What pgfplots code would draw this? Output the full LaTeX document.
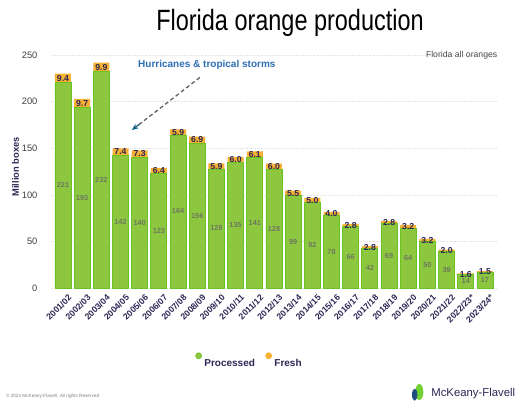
\documentclass[border=0pt]{standalone}
\usepackage{fontspec}
\setmainfont{Liberation Sans}
\usepackage{graphicx}
\usepackage{pgfplots}
\usepackage{pgfplotstable}
\pgfplotsset{compat=1.18}
\usetikzlibrary{arrows.meta}
\definecolor{procgreen}{RGB}{141,198,63}
\definecolor{procedge}{RGB}{105,195,35}
\definecolor{freshorange}{RGB}{246,176,50}
\definecolor{navy}{RGB}{45,38,85}
\definecolor{annblue}{RGB}{45,110,180}
\pgfplotstableread{
idx label proc fresh
0 2001/02 220.6 9.4
1 2002/03 193.3 9.7
2 2003/04 232.1 9.9
3 2004/05 142.4 7.4
4 2005/06 140.4 7.3
5 2006/07 122.6 6.4
6 2007/08 164.3 5.9
7 2008/09 155.6 6.9
8 2009/10 127.8 5.9
9 2010/11 134.5 6.0
10 2011/12 140.5 6.1
11 2012/13 127.6 6.0
12 2013/14 99.1 5.5
13 2014/15 91.7 5.0
14 2015/16 77.7 4.0
15 2016/17 65.9 2.8
16 2017/18 42.2 2.8
17 2018/19 69.0 2.8
18 2019/20 64.2 3.2
19 2020/21 49.6 3.2
20 2021/22 39.2 2.0
21 2022/23* 14.2 1.6
22 2023/24* 16.5 1.5
}\datatable
\pgfplotsset{/pgf/number format/assume math mode=true}
\begin{document}
\begin{tikzpicture}
\useasboundingbox (0,0) rectangle (393pt,303pt);
\fill[white] (0,0) rectangle (393pt,303pt);
\begin{axis}[
  at={(38.6pt,87pt)}, anchor=south west,
  scale only axis, width=333.75pt, height=181.7pt,
  xmin=-0.6, xmax=22.6, ymin=0, ymax=260,
  ybar stacked, bar width=12pt,
  xtick={0,...,22},
  xticklabels from table={\datatable}{label},
  xticklabel style={rotate=45, anchor=north east, font=\fontsize{6.5}{6.5}\selectfont\bfseries, text=navy, inner sep=0.5pt, yshift=-5pt},
  ytick={0,50,...,250},
  yticklabel style={font=\fontsize{7}{7}\selectfont, text=black!75, xshift=-7pt},
  ylabel={Million boxes},
  every axis y label/.style={at={(rel axis cs:-0.081,0.5)}, rotate=90, anchor=center, font=\fontsize{7}{7}\selectfont\bfseries, text=navy},
  axis line style={draw=none}, major tick length=0pt,
  ymajorgrids, grid style={black!12, densely dotted},
  legend style={at={(0.446,-0.305)}, anchor=center, draw=none, fill=none, legend columns=2,
    font=\fontsize{7.5}{7.5}\selectfont\bfseries, text=navy,
    /tikz/every even column/.append style={column sep=6pt}},
  legend cell align=left,
]
\addplot[fill=procgreen, draw=procedge, line width=0.6pt, forget plot]
  table[x=idx, y=proc] {\datatable};
\addplot[fill=freshorange, draw=none, forget plot,
  nodes near coords={\pgfmathprintnumber[fixed,fixed zerofill,precision=1]{\pgfplotspointmeta}},
  point meta=explicit,
  every node near coord/.append style={font=\fontsize{6.5}{6.5}\selectfont\bfseries, text=navy, inner sep=2pt}]
  table[x=idx, y=fresh, meta=fresh] {\datatable};
\addlegendimage{only marks, mark=*, mark size=2.3pt, mark options={fill=procgreen, draw=procedge}}
\addlegendentry{Processed}
\addlegendimage{only marks, mark=*, mark size=2.3pt, mark options={fill=freshorange, draw=freshorange}}
\addlegendentry{Fresh}
\draw[black!65, line width=0.9pt, densely dashed] (axis cs:7.14,226) -- (axis cs:3.75,172);
\draw[-{Stealth[length=5pt,width=4pt]}, color=teal!80!blue, line width=0.9pt] (axis cs:4.0,176) -- (axis cs:3.59,169.5);
\node[font=\fontsize{7.5}{7.5}\selectfont\bfseries, text=annblue] at (axis cs:7.5,239) {Hurricanes \& tropical storms};
\end{axis}
\begin{axis}[
  at={(38.6pt,87pt)}, anchor=south west,
  scale only axis, width=333.75pt, height=181.7pt,
  xmin=-0.6, xmax=22.6, ymin=0, ymax=260,
  hide axis,
]
\addplot[draw=none, mark=none,
  nodes near coords={\pgfmathprintnumber[fixed,precision=0]{\pgfplotspointmeta}},
  point meta=explicit,
  every node near coord/.append style={anchor=center, font=\fontsize{5.5}{5.5}\selectfont\bfseries, text=black!60, opacity=0.8}]
  table[x=idx, y expr=\thisrow{proc}/2, meta=proc] {\datatable};
\end{axis}
\node[anchor=center] at (217.5pt,285.5pt) {\scalebox{0.8}[1]{\fontsize{22}{22}\selectfont Florida orange production}};
\node[anchor=east, font=\fontsize{6.5}{6.5}\selectfont, text=black!70] at (376.5pt,261.5pt) {Florida all oranges};
\node[anchor=west, font=\fontsize{3.5}{3.5}\selectfont, text=black!50] at (1pt,6pt) {\textcopyright{} 2024 McKeany-Flavell. All rights Reserved};
\fill[procgreen!80!green] (314.5pt,9pt) ellipse (3pt and 6pt);
\fill[annblue!70!black] (311pt,7pt) ellipse (2pt and 4.5pt);
\node[anchor=west, font=\fontsize{8.5}{8.5}\selectfont, text=navy] at (320pt,8pt) {McKeany-Flavell};
\end{tikzpicture}
\end{document}
